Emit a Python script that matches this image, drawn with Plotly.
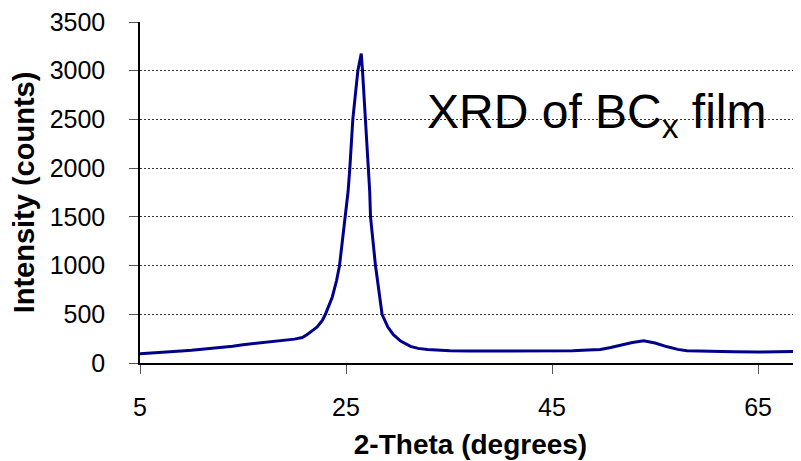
import plotly.graph_objects as go

# 2-Theta (degrees) and intensity (counts)
two_theta = [5.0, 6.0, 7.0, 8.0, 9.0, 10.0, 11.0, 12.0, 13.0, 14.0, 15.0, 16.0,
             17.0, 18.0, 19.0, 20.0, 20.75, 21.2, 21.7, 22.2, 22.7, 23.0, 23.66,
             24.08, 24.37, 24.9, 25.2, 25.37, 25.66, 26.15, 26.48, 26.6, 26.9,
             27.2, 27.3, 27.38, 27.86, 28.5, 29.06, 29.6, 30.3, 31.26, 32.0,
             32.9, 34.0, 35.1, 37.0, 40.0, 43.0, 45.0, 47.0, 48.5, 49.7, 50.7,
             51.65, 52.8, 53.9, 55.0, 56.2, 57.2, 58.1, 60.0, 62.65, 65.0, 67.0,
             69.2]
intensity = [95, 100, 108, 115, 122, 130, 139, 150, 162, 173, 188, 200,
             212, 222, 232, 245, 262, 290, 330, 370, 437, 500, 675,
             844, 1000, 1500, 1760, 2000, 2500, 3000, 3176, 3000, 2500,
             2000, 1760, 1500, 1000, 500, 369, 290, 225, 170, 150,
             139, 130, 125, 122, 122, 121, 122, 127, 133, 139, 160,
             183, 210, 227, 205, 166, 140, 125, 118, 115, 113, 113,
             118]

y_ticks = [0, 500, 1000, 1500, 2000, 2500, 3000, 3500]
x_ticks = [5, 25, 45, 65]

FONT = "Arial, Liberation Sans, sans-serif"

fig = go.Figure()
fig.add_trace(go.Scatter(
    x=two_theta, y=intensity, mode="lines",
    line=dict(color="#00008B", width=3),
    showlegend=False, hoverinfo="skip",
))

fig.update_layout(
    width=793, height=453,
    margin=dict(l=132, r=0, t=11, b=98),
    paper_bgcolor="white", plot_bgcolor="white",
    font=dict(family=FONT, color="black"),
    xaxis=dict(
        range=[5, 69.17], tickvals=x_ticks, ticktext=[str(v) for v in x_ticks],
        ticks="outside", ticklen=9, tickcolor="#555", tickwidth=1,
        showline=True, linecolor="black", linewidth=1.5,
        showgrid=False, zeroline=False,
        tickfont=dict(size=25, family=FONT),
        ticklabelstandoff=12, ticklabeloverflow="allow",
        title=dict(text="<b>2-Theta (degrees)</b>", font=dict(size=28, family=FONT), standoff=15),
    ),
    yaxis=dict(
        range=[0, 3500], tickvals=y_ticks,
        ticks="outside", ticklen=9, tickcolor="#555", tickwidth=1,
        showline=True, linecolor="black", linewidth=1.5,
        showgrid=True, gridcolor="#333", gridwidth=1, griddash="2px,2px",
        zeroline=False,
        tickfont=dict(size=25, family=FONT),
        ticklabelstandoff=19, ticklabeloverflow="allow",
        title=dict(text="<b>Intensity (counts)</b>", font=dict(size=29, family=FONT), standoff=10),
    ),
    annotations=[dict(
        xref="paper", yref="paper", x=0.431, y=0.726,
        xanchor="left", yanchor="middle", showarrow=False,
        text="XRD of BC<sub>x</sub> film",
        font=dict(size=48, family=FONT, color="black"),
    )],
)

fig.write_html("out.html")
